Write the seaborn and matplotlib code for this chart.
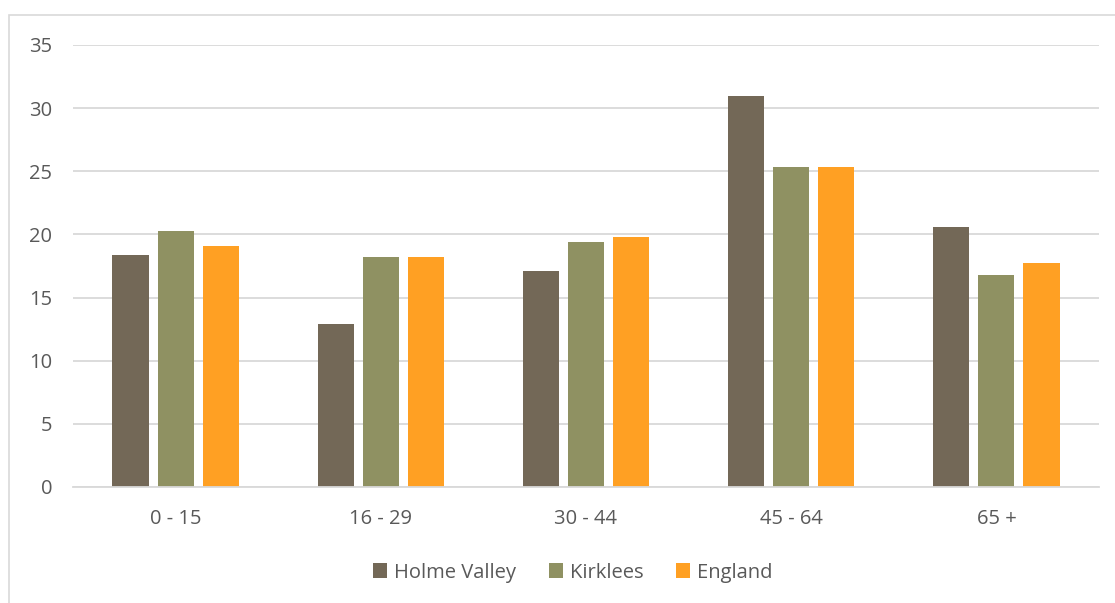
import matplotlib
matplotlib.use('Agg')
import matplotlib.pyplot as plt
from matplotlib.patches import Rectangle
import seaborn as sns
import pandas as pd

# age groups and shares (%)
ages = ['0 - 15', '16 - 29', '30 - 44', '45 - 64', '65 +']
holme_valley = [18.4, 12.9, 17.1, 31.0, 20.6]
kirklees = [20.3, 18.2, 19.4, 25.3, 16.8]
england = [19.1, 18.2, 19.8, 25.3, 17.7]
areas = ['Holme Valley', 'Kirklees', 'England']
colours = ['#736857', '#8F9162', '#FFA023']

rows = []
for area, vals in zip(areas, [holme_valley, kirklees, england]):
    for a, v in zip(ages, vals):
        rows.append({'age': a, 'pct': v, 'area': area})
df = pd.DataFrame(rows)

sns.set_style('white')
plt.rcParams['font.family'] = ['Open Sans', 'DejaVu Sans']

fig = plt.figure(figsize=(11.15, 6.03), dpi=100)
ax = fig.add_axes([73 / 1115, 1 - 487 / 603, (1099 - 73) / 1115, (487 - 45) / 603])

sns.barplot(data=df, x='age', y='pct', hue='area', palette=colours,
            width=0.66, gap=0.2, ax=ax, saturation=1, edgecolor='none')

ax.set_ylim(0, 35)
ax.set_yticks(range(0, 36, 5))
ax.set_xlim(-0.5, 4.5)
ax.yaxis.grid(True, color='#D9D9D9', linewidth=1.3)
ax.set_axisbelow(True)
for s in ['top', 'right', 'left']:
    ax.spines[s].set_visible(False)
ax.spines['bottom'].set_color('#D9D9D9')
ax.spines['bottom'].set_linewidth(1.3)
ax.tick_params(axis='both', length=0, labelsize=14.5, colors='#595959')
ax.tick_params(axis='y', pad=15)
ax.tick_params(axis='x', pad=16)
ax.set_xlabel('')
ax.set_ylabel('')

leg = ax.legend(loc='upper center', bbox_to_anchor=(0.487, -0.13), ncol=3,
                frameon=False, fontsize=14.5, handlelength=0.7, handleheight=0.7,
                handletextpad=0.35, columnspacing=1.6)
for t in leg.get_texts():
    t.set_color('#595959')

# outer chart frame
fig.patches.append(Rectangle((9 / 1115, -0.1), 1.2, 1 - 15 / 603 + 0.1,
                             transform=fig.transFigure, fill=False,
                             edgecolor='#D9D9D9', linewidth=1.2))

fig.savefig('out.png', dpi=100)
